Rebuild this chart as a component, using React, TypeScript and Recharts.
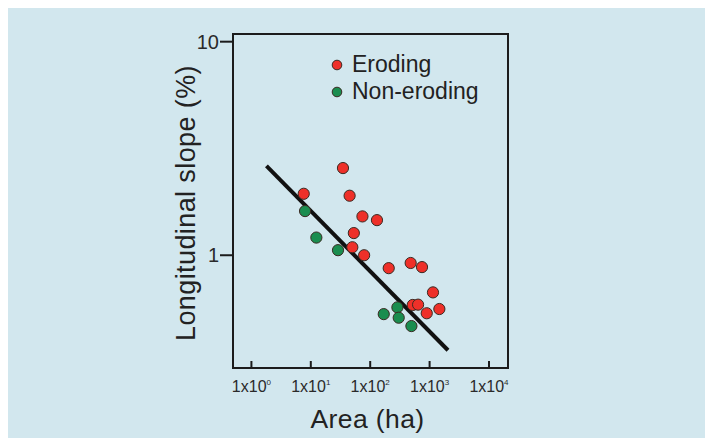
import React from "react"
import {
  ScatterChart,
  Scatter,
  XAxis,
  YAxis,
  ReferenceArea,
  Legend,
  Label,
} from "recharts"

// area (ha) vs longitudinal slope (%)
const erodingArea = [34.8, 7.6, 45, 74, 130, 53, 50, 79, 205, 480, 745, 1140, 520, 640, 895, 1460]
const erodingSlope = [2.56, 1.94, 1.9, 1.52, 1.46, 1.27, 1.09, 1.0, 0.87, 0.92, 0.88, 0.67, 0.585, 0.587, 0.535, 0.56]

const nonErodingArea = [8.0, 12.4, 28.7, 287, 169, 302, 494]
const nonErodingSlope = [1.61, 1.21, 1.056, 0.57, 0.53, 0.51, 0.466]

// regression line end points
const fitArea = [1.79, 2040]
const fitSlope = [2.62, 0.359]

const xTicks = [1, 10, 100, 1000, 10000]
const xTickExp = ["0", "1", "2", "3", "4"]
const yTicks = [1, 10]

const xDomain = [Math.pow(10, -0.31), Math.pow(10, 4.32)]
const yDomain = [Math.pow(10, -0.528), Math.pow(10, 1.036)]

const toPoints = (xs: number[], ys: number[]) => xs.map((x, i) => ({ area: x, slope: ys[i] }))

const eroding = toPoints(erodingArea, erodingSlope)
const nonEroding = toPoints(nonErodingArea, nonErodingSlope)
const fitLine = toPoints(fitArea, fitSlope)

const FONT = '"Liberation Sans", Arial, sans-serif'
const RED = "#ee3029"
const GREEN = "#1a8d4f"
const INK = "#1c1c1c"

const Dot = (color: string) => (props: any) => (
  <circle cx={props.cx} cy={props.cy} r={5.6} fill={color} stroke="#3a2a22" strokeWidth={1} />
)

const XTick = (props: any) => {
  const { x, y, index } = props
  return (
    <g>
      <line x1={x} y1={y} x2={x} y2={y - 7} stroke={INK} strokeWidth={2} />
      <text x={x} y={y + 24} textAnchor="middle" fontFamily={FONT} fontSize={16} fill="#2a2a2a">
        <tspan>1x10</tspan>
        <tspan dy={-7} fontSize={8}>{xTickExp[index]}</tspan>
      </text>
    </g>
  )
}

const LegendBox = () => {
  const items = [
    { name: "Eroding", color: RED },
    { name: "Non-eroding", color: GREEN },
  ]
  return (
    <div style={{ fontFamily: FONT, fontSize: 23, color: "#222" }}>
      {items.map((it) => (
        <div key={it.name} style={{ display: "flex", alignItems: "center", height: 27.3 }}>
          <svg width={14} height={14} style={{ marginRight: 8 }}>
            <circle cx={7} cy={7} r={4.8} fill={it.color} stroke="#3a2a22" strokeWidth={1} />
          </svg>
          <span>{it.name}</span>
        </div>
      ))}
    </div>
  )
}

export default function App() {
  return (
    <div style={{ width: 705, height: 434, marginTop: -4, background: "#d2e7ee" }}>
      <ScatterChart width={705} height={434} margin={{ top: 30, right: 205, bottom: 0, left: 0 }}>
        <XAxis
          type="number"
          dataKey="area"
          scale="log"
          domain={xDomain}
          allowDataOverflow
          ticks={xTicks}
          interval={0}
          height={70}
          tickSize={0}
          tickMargin={0}
          tickLine={false}
          axisLine={{ stroke: INK, strokeWidth: 2 }}
          tick={<XTick />}
        >
          <Label
            content={({ viewBox }: any) => (
              <text
                x={viewBox.x + viewBox.width / 2 - 3}
                y={viewBox.y + 60}
                textAnchor="middle"
                fontFamily={FONT}
                fontSize={26.5}
                letterSpacing={0.4}
                fill="#222"
              >
                Area (ha)
              </text>
            )}
          />
        </XAxis>
        <YAxis
          type="number"
          dataKey="slope"
          scale="log"
          domain={yDomain}
          allowDataOverflow
          ticks={yTicks}
          interval={0}
          width={225}
          tickSize={13}
          tickMargin={1}
          tickLine={{ stroke: INK, strokeWidth: 2 }}
          axisLine={{ stroke: INK, strokeWidth: 2 }}
          tick={{ fontFamily: FONT, fontSize: 20, fill: "#2a2a2a" }}
        >
          <Label
            content={({ viewBox }: any) => {
              const cx = viewBox.x + 178
              const cy = viewBox.y + viewBox.height / 2 + 2
              return (
                <text
                  x={cx}
                  y={cy}
                  transform={`rotate(-90, ${cx}, ${cy})`}
                  textAnchor="middle"
                  dominantBaseline="central"
                  fontFamily={FONT}
                  fontSize={27}
                  letterSpacing={0.4}
                  fill="#222"
                >
                  Longitudinal slope (%)
                </text>
              )
            }}
          />
        </YAxis>
        <ReferenceArea
          x1={xDomain[0]}
          x2={xDomain[1]}
          y1={yDomain[0]}
          y2={yDomain[1]}
          fill="none"
          stroke={INK}
          strokeWidth={2}
          ifOverflow="visible"
        />
        <Scatter
          data={fitLine}
          legendType="none"
          line={{ stroke: "#111", strokeWidth: 4 }}
          shape={() => <g />}
          isAnimationActive={false}
        />
        <Scatter name="Eroding" data={eroding} fill={RED} shape={Dot(RED)} isAnimationActive={false} />
        <Scatter name="Non-eroding" data={nonEroding} fill={GREEN} shape={Dot(GREEN)} isAnimationActive={false} />
        <Legend
          layout="horizontal"
          verticalAlign="middle"
          align="center"
          content={<LegendBox />}
          wrapperStyle={{ position: "absolute", left: 322, top: 47, width: "auto", height: "auto" }}
        />
      </ScatterChart>
    </div>
  )
}
